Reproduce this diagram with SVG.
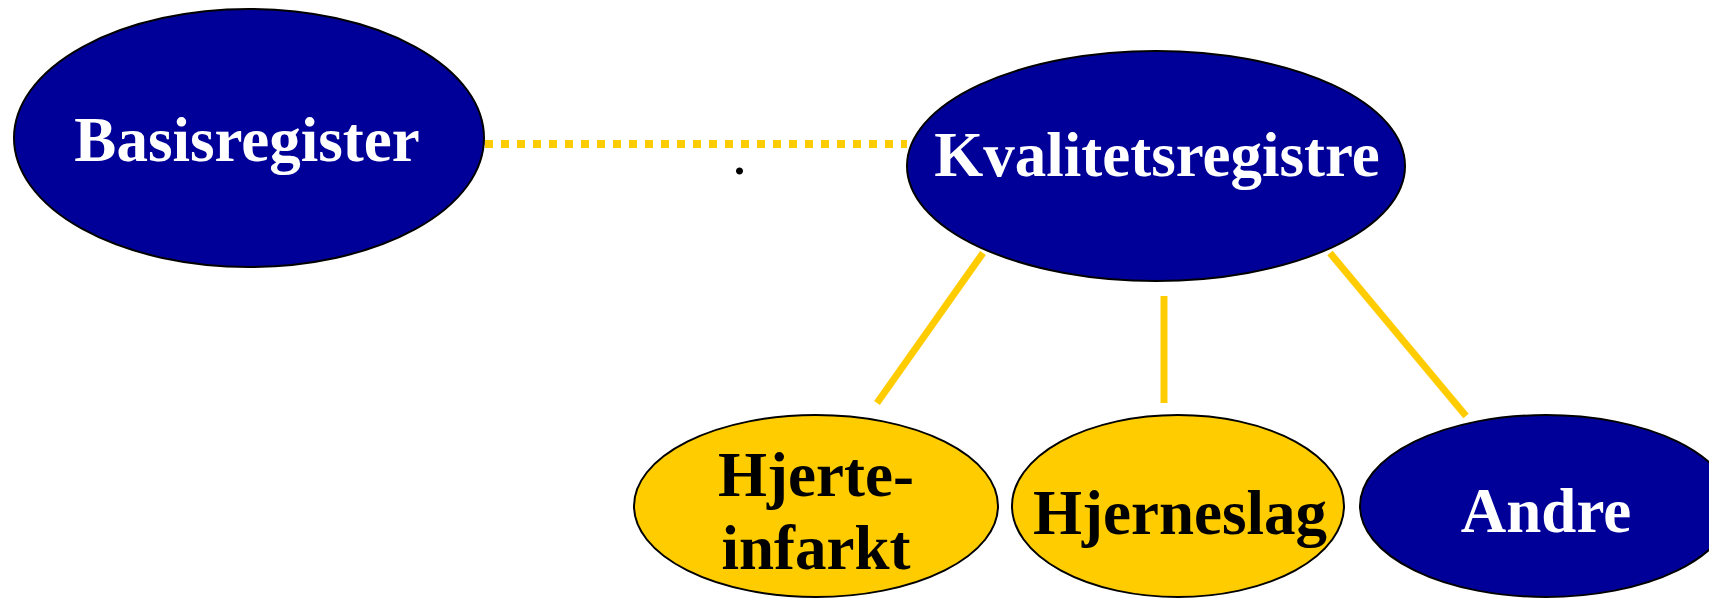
<svg xmlns="http://www.w3.org/2000/svg" width="1709" height="599" viewBox="0 0 1709 599">
  <style>
    .navy { fill: #000099; stroke: #000000; stroke-width: 2; }
    .gold { fill: #FFCC00; stroke: #000000; stroke-width: 2; }
    .lbl { font-family: "Liberation Serif", "Times New Roman", serif; font-weight: bold; font-size: 63px; text-anchor: middle; }
    .w { fill: #FFFFFF; }
    .k { fill: #000000; }
    .link { stroke: #FFCC00; stroke-width: 7; fill: none; }
    .dotted { stroke: #FFCC00; stroke-width: 8; stroke-dasharray: 8 8; fill: none; }
  </style>
  <rect width="1709" height="599" fill="#FFFFFF"/>

  <g id="connectors">
    <line class="dotted" x1="485" y1="144" x2="907" y2="144"/>
    <line class="link" x1="983" y1="253" x2="877" y2="403"/>
    <line class="link" x1="1164" y1="296" x2="1164" y2="403"/>
    <line class="link" x1="1330" y1="253" x2="1466" y2="416"/>
  </g>

  <g id="basisregister">
    <ellipse class="navy" cx="249" cy="138" rx="235" ry="129"/>
    <text class="lbl w" x="247" y="161">Basisregister</text>
  </g>

  <g id="kvalitetsregistre">
    <ellipse class="navy" cx="1156" cy="166" rx="249" ry="115"/>
    <text class="lbl w" x="1157" y="176">Kvalitetsregistre</text>
  </g>

  <g id="hjerteinfarkt">
    <ellipse class="gold" cx="816" cy="506" rx="182" ry="91"/>
    <text class="lbl k" x="816" y="496">Hjerte-</text>
    <text class="lbl k" x="816" y="569">infarkt</text>
  </g>

  <g id="hjerneslag">
    <ellipse class="gold" cx="1178" cy="506" rx="166" ry="91"/>
    <text class="lbl k" x="1180" y="534">Hjerneslag</text>
  </g>

  <g id="andre">
    <ellipse class="navy" cx="1546" cy="506" rx="186" ry="91"/>
    <text class="lbl w" x="1546" y="532">Andre</text>
  </g>

  <text x="732" y="174" font-family="Liberation Serif, serif" font-size="60" fill="#000000">.</text>
</svg>
